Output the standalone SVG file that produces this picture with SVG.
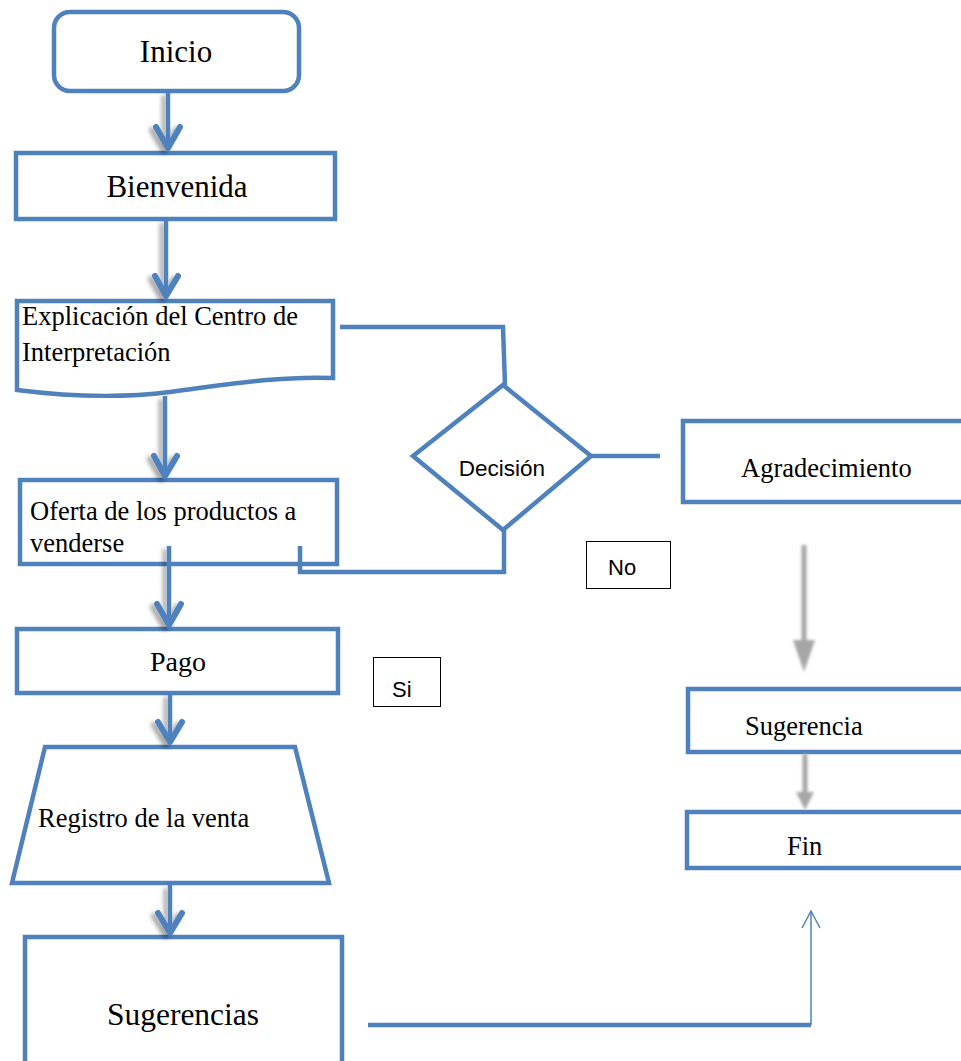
<svg xmlns="http://www.w3.org/2000/svg" width="961" height="1061" viewBox="0 0 961 1061">
  <defs>
    <style>
      .box { fill: #ffffff; stroke: #4f81bd; stroke-width: 4.5; }
      .serif { font-family: "Liberation Serif", "Times New Roman", serif; fill: #000; }
      .sans { font-family: "Liberation Sans", Arial, sans-serif; fill: #000; }
      .tag { fill: #ffffff; stroke: #000; stroke-width: 1; }
      .link { fill: none; stroke: #4f81bd; stroke-width: 4.5; }
      .thin { fill: none; stroke: #4f81bd; stroke-width: 1.5; }
      .shaft { stroke: #4f81bd; stroke-width: 4.5; fill: none; }
      .head { stroke: #4f81bd; stroke-width: 6; fill: none; stroke-linecap: round; stroke-linejoin: round; }
      .grey { stroke: #a6a6a6; fill: none; }
    </style>
    <filter id="shadow" x="-100%" y="-20%" width="300%" height="140%">
      <feDropShadow dx="-4" dy="3" stdDeviation="2" flood-color="#000" flood-opacity="0.35"/>
    </filter>
    <filter id="soft" x="-100%" y="-20%" width="300%" height="140%">
      <feGaussianBlur stdDeviation="1.6"/>
    </filter>
  </defs>

  <!-- nodes -->
  <g id="inicio">
    <rect class="box" x="54" y="12" width="245" height="79" rx="16"/>
    <text class="serif" x="176" y="62" font-size="31" text-anchor="middle">Inicio</text>
  </g>

  <g id="bienvenida">
    <rect class="box" x="16" y="153" width="319" height="66"/>
    <text class="serif" x="177" y="197" font-size="31" text-anchor="middle">Bienvenida</text>
  </g>

  <g id="explicacion">
    <path class="box" d="M17,301 L333,301 L333,378 C280,376 230,384 170,392 C130,397 80,398 17,390 Z"/>
    <text class="serif" x="22" y="325" font-size="26.5">Explicación del Centro de</text>
    <text class="serif" x="22" y="361" font-size="26.5">Interpretación</text>
  </g>

  <g id="oferta">
    <rect class="box" x="20" y="480" width="317" height="84"/>
    <text class="serif" x="30" y="520" font-size="26.5">Oferta de los productos a</text>
    <text class="serif" x="30" y="552" font-size="26.5">venderse</text>
  </g>

  <g id="decision">
    <polygon class="box" points="503,385 591,456 503,530 413,456"/>
    <text class="sans" x="502" y="476" font-size="22.5" text-anchor="middle">Decisión</text>
  </g>

  <g id="agradecimiento">
    <rect class="box" x="683" y="421" width="300" height="81"/>
    <text class="serif" x="741" y="477" font-size="26.5">Agradecimiento</text>
  </g>

  <g id="label-no">
    <rect class="tag" x="586.5" y="541.5" width="84" height="47"/>
    <text class="sans" x="608" y="575" font-size="22">No</text>
  </g>

  <g id="pago">
    <rect class="box" x="17" y="629" width="321" height="64"/>
    <text class="serif" x="178" y="671" font-size="28" text-anchor="middle">Pago</text>
  </g>

  <g id="label-si">
    <rect class="tag" x="373.5" y="657.5" width="67" height="49"/>
    <text class="sans" x="392" y="697" font-size="22">Si</text>
  </g>

  <g id="registro">
    <polygon class="box" points="45,747 295,747 329,883 12,883"/>
    <text class="serif" x="38" y="827" font-size="26.5">Registro de la venta</text>
  </g>

  <g id="sugerencias">
    <rect class="box" x="25" y="937" width="317" height="140"/>
    <text class="serif" x="183" y="1025" font-size="31.5" text-anchor="middle">Sugerencias</text>
  </g>

  <g id="sugerencia">
    <rect class="box" x="688" y="689" width="300" height="63"/>
    <text class="serif" x="745" y="735" font-size="26.5">Sugerencia</text>
  </g>

  <g id="fin">
    <rect class="box" x="687" y="812" width="300" height="56"/>
    <text class="serif" x="787" y="855" font-size="26.5">Fin</text>
  </g>

  <!-- connectors, drawn over the boxes so their ends show inside -->
  <g id="connectors">
    <!-- blue flow arrows down the left column -->
    <g filter="url(#shadow)">
      <line class="shaft" x1="168" y1="92" x2="168" y2="148"/>
      <polyline class="head" points="156,127 168,148 180,127"/>
    </g>
    <g filter="url(#shadow)">
      <line class="shaft" x1="166" y1="220" x2="166" y2="296"/>
      <polyline class="head" points="155,276 166,296 178,276"/>
    </g>
    <g filter="url(#shadow)">
      <line class="shaft" x1="165" y1="396" x2="165" y2="476"/>
      <polyline class="head" points="154,456 165,476 177,456"/>
    </g>
    <g filter="url(#shadow)">
      <line class="shaft" x1="169" y1="546" x2="169" y2="625"/>
      <polyline class="head" points="157,604 169,625 181,604"/>
    </g>
    <g filter="url(#shadow)">
      <line class="shaft" x1="170" y1="694" x2="170" y2="742"/>
      <polyline class="head" points="158,722 170,742 182,722"/>
    </g>
    <g filter="url(#shadow)">
      <line class="shaft" x1="170" y1="885" x2="170" y2="933"/>
      <polyline class="head" points="158,913 170,933 182,913"/>
    </g>

    <!-- decision wiring -->
    <polyline class="link" points="340,327 503,327 505,385"/>
    <polyline class="link" points="504,530 504,572 300,572 300,546"/>
    <line class="link" x1="591" y1="456" x2="660" y2="456"/>

    <!-- bottom return to Fin -->
    <line class="link" x1="368" y1="1025" x2="811" y2="1025"/>
    <line class="thin" x1="811" y1="1025" x2="811" y2="911"/>
    <polyline class="thin" points="802,928 811,911 820,928"/>

    <!-- grey arrows in the right column -->
    <g filter="url(#soft)">
      <line class="grey" stroke-width="5" x1="804" y1="545" x2="804" y2="648"/>
      <polygon fill="#a6a6a6" points="793,640 815,640 804,672"/>
    </g>
    <g filter="url(#soft)">
      <line class="grey" stroke-width="5" x1="805" y1="754" x2="805" y2="796"/>
      <polygon fill="#a6a6a6" points="796,792 814,792 805,810"/>
    </g>
  </g>
</svg>
